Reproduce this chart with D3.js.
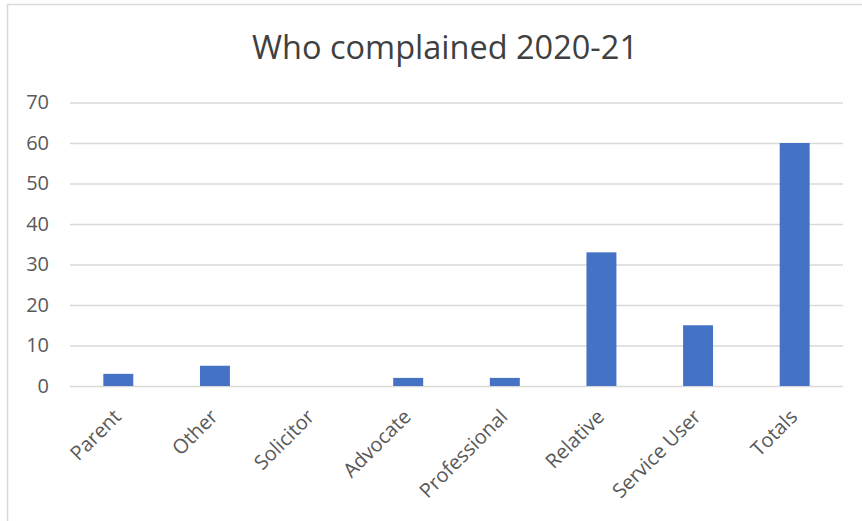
<!DOCTYPE html>
<html><head><meta charset="utf-8">
<script src="https://cdn.jsdelivr.net/npm/d3@7"></script>
<style>
html,body{margin:0;padding:0;background:#fff;}
svg{display:block;font-family:"Open Sans",sans-serif;}
</style></head>
<body><svg id="c" width="862" height="521"></svg>
<script>
const categories = ["Parent","Other","Solicitor","Advocate","Professional","Relative","Service User","Totals"];
const values = [3,5,0,2,2,33,15,60];
const yTicks = [0,10,20,30,40,50,60,70];
const title = "Who complained 2020-21";

const svg = d3.select("#c");
const W = 862, H = 521;
const m = {left:70, right:19, top:102.5, bottom:135};

svg.append("rect").attr("x",7.5).attr("y",4.5).attr("width",W+10).attr("height",H+10)
  .attr("fill","#fff").attr("stroke","#d9d9d9").attr("stroke-width",1.5);

const x = d3.scaleBand().domain(categories).range([m.left, W-m.right]).paddingInner(0.69).paddingOuter(0.345);
const y = d3.scaleLinear().domain([0,70]).range([386, 102.5]);

svg.append("text").attr("x",445).attr("y",59).attr("text-anchor","middle")
  .attr("font-size",32.5).attr("fill","#404040").text(title);

const ya = svg.append("g").attr("transform",`translate(${m.left},0)`)
  .call(d3.axisLeft(y).tickValues(yTicks).tickSize(-(W-m.right-m.left)).tickPadding(21));
ya.select(".domain").remove();
ya.selectAll(".tick line").attr("stroke","#d9d9d9").attr("stroke-width",1.3);
ya.selectAll(".tick text").attr("font-size",20).attr("fill","#595959").attr("font-family","Open Sans");

svg.append("g").selectAll("rect").data(values).join("rect")
  .attr("x",(d,i)=>x(categories[i])).attr("width",x.bandwidth())
  .attr("y",d=>y(d)).attr("height",d=>y(0)-y(d)).attr("fill","#4472c4");

const xa = svg.append("g").attr("transform",`translate(0,386)`)
  .call(d3.axisBottom(x).tickSize(0).tickPadding(0));
xa.select(".domain").remove();
xa.selectAll(".tick text").attr("font-size",20).attr("fill","#595959").attr("font-family","Open Sans")
  .attr("text-anchor","end").attr("dy",0)
  .attr("transform","translate(4,32) rotate(-45)");
</script></body></html>
